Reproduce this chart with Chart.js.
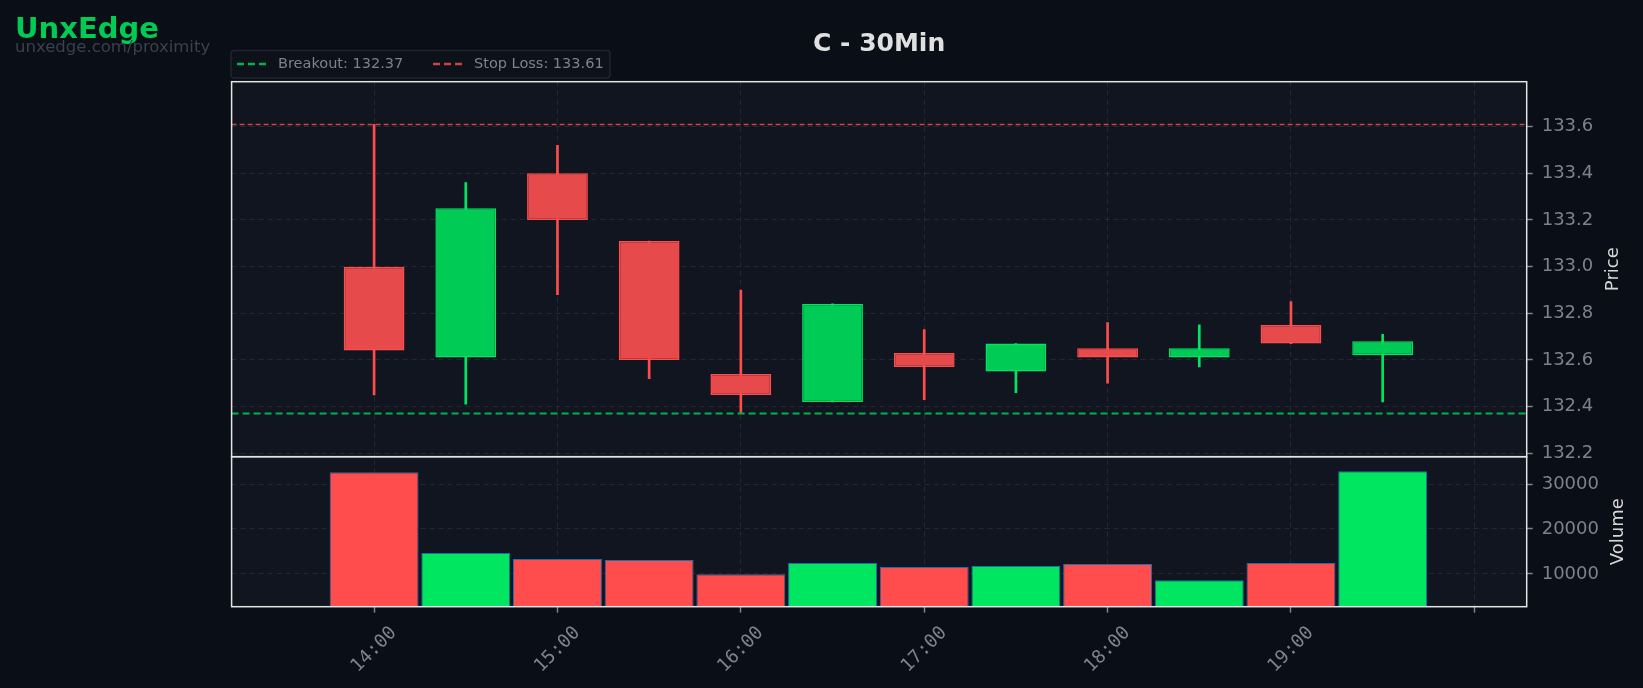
<!DOCTYPE html>
<html>
<head>
<meta charset="utf-8">
<script src="https://cdn.jsdelivr.net/npm/chart.js@4.4.1/dist/chart.umd.min.js"></script>
<style>
  html, body { margin: 0; padding: 0; background: #0a0e16; overflow: hidden; }
  canvas { display: block; }
</style>
</head>
<body>
<canvas id="chart" width="1643" height="688"></canvas>
<script>
// --- data (30 min candles, index 0 = 14:00) ---
const candleTimes = ['14:00', '14:30', '15:00', '15:30', '16:00', '16:30', '17:00', '17:30', '18:00', '18:30', '19:00', '19:30'];
const openPrices  = [133.00, 132.61, 133.40, 133.11, 132.54, 132.42, 132.63, 132.55, 132.65, 132.61, 132.75, 132.62];
const highPrices  = [133.61, 133.36, 133.52, 133.11, 132.90, 132.84, 132.73, 132.67, 132.76, 132.75, 132.85, 132.71];
const lowPrices   = [132.45, 132.41, 132.88, 132.52, 132.37, 132.42, 132.43, 132.46, 132.50, 132.57, 132.67, 132.42];
const closePrices = [132.64, 133.25, 133.20, 132.60, 132.45, 132.84, 132.57, 132.67, 132.61, 132.65, 132.67, 132.68];
const volumes     = [32600, 14630, 13290, 13060, 9930, 12390, 11500, 11720, 12170, 8590, 12390, 32830];

const breakoutLevel = 132.37;
const stopLossLevel = 133.61;

const timeTickValues = [0, 2, 4, 6, 8, 10, 12];
const timeTickLabels = ['14:00', '15:00', '16:00', '17:00', '18:00', '19:00', ''];
const priceTicks = [132.2, 132.4, 132.6, 132.8, 133.0, 133.2, 133.4, 133.6];
const volumeTicks = [10000, 20000, 30000];

// axis limits
const xMin = -1.554, xMax = 12.571;
const priceMin = 132.185, priceMax = 133.793;
const volumeMin = 2685, volumeMax = 36085;

// --- colours ---
const UP = '#00e660', DOWN = '#ff4d4d';
const UP_BODY = '#00cc55', DOWN_BODY = '#e64a4a';
const GRID = 'rgba(130,135,150,0.17)';
const TICK_TEXT = '#7d828d';
const FRAME = '#e4e4e4';
const PLOT_BG = '#111520';
const FONT = "'DejaVu Sans', sans-serif";

const isUp = i => closePrices[i] >= openPrices[i];

const wickData = candleTimes.map((t, i) => ({ x: i, y: [lowPrices[i], highPrices[i]] }));
const bodyData = candleTimes.map((t, i) => ({ x: i, y: [openPrices[i], closePrices[i]] }));
const volumeData = candleTimes.map((t, i) => ({ x: i, y: volumes[i] }));

const frameAndText = {
  id: 'frameAndText',
  beforeDraw(chart) {
    const { ctx, chartArea } = chart;
    ctx.save();
    ctx.fillStyle = '#0a0e16';
    ctx.fillRect(0, 0, chart.width, chart.height);
    ctx.fillStyle = PLOT_BG;
    ctx.fillRect(chartArea.left, chartArea.top, chartArea.right - chartArea.left, chartArea.bottom - chartArea.top);
    ctx.restore();
  },
  afterDraw(chart) {
    const { ctx, chartArea } = chart;
    const sx = chart.scales.x;
    ctx.save();

    // panel frames
    ctx.strokeStyle = FRAME;
    ctx.lineWidth = 1.5;
    ['y', 'yVol'].forEach(id => {
      const s = chart.scales[id];
      ctx.strokeRect(chartArea.left, s.top, chartArea.right - chartArea.left, s.bottom - s.top);
    });

    // rotated time labels, centred on the ticks
    ctx.fillStyle = TICK_TEXT;
    ctx.font = "18.5px 'DejaVu Sans Mono', monospace";
    ctx.textAlign = 'center';
    ctx.textBaseline = 'middle';
    timeTickValues.forEach((v, i) => {
      if (!timeTickLabels[i]) return;
      ctx.save();
      ctx.translate(sx.getPixelForValue(v), chartArea.bottom + 43);
      ctx.rotate(-Math.PI / 4);
      ctx.fillText(timeTickLabels[i], 0, 0);
      ctx.restore();
    });

    // axis titles (read bottom to top)
    ctx.fillStyle = '#d6d6d6';
    ctx.font = '18px ' + FONT;
    [['y', 'Price', 1613], ['yVol', 'Volume', 1618]].forEach(([id, txt, x]) => {
      const s = chart.scales[id];
      ctx.save();
      ctx.translate(x, (s.top + s.bottom) / 2);
      ctx.rotate(-Math.PI / 2);
      ctx.fillText(txt, 0, 0);
      ctx.restore();
    });

    // title
    ctx.fillStyle = '#e0e0e0';
    ctx.font = 'bold 25px ' + FONT;
    ctx.fillText('C - 30Min', (chartArea.left + chartArea.right) / 2, 44);

    // watermark
    ctx.textAlign = 'left';
    ctx.textBaseline = 'alphabetic';
    ctx.fillStyle = '#00cc55';
    ctx.font = 'bold 29px ' + FONT;
    ctx.fillText('UnxEdge', 15, 38);
    ctx.fillStyle = '#3b414d';
    ctx.font = '16.5px ' + FONT;
    ctx.fillText('unxedge.com/proximity', 15, 52);

    // legend
    ctx.fillStyle = '#0d111a';
    ctx.strokeStyle = '#1f2430';
    ctx.lineWidth = 1.5;
    ctx.beginPath();
    ctx.roundRect(231, 50.5, 379, 27.5, 3);
    ctx.fill();
    ctx.stroke();
    ctx.lineWidth = 2.5;
    ctx.setLineDash([7, 4]);
    ctx.strokeStyle = '#00b34a';
    ctx.beginPath(); ctx.moveTo(237, 64); ctx.lineTo(267, 64); ctx.stroke();
    ctx.strokeStyle = '#c94545';
    ctx.beginPath(); ctx.moveTo(433, 64); ctx.lineTo(463, 64); ctx.stroke();
    ctx.setLineDash([]);
    ctx.fillStyle = TICK_TEXT;
    ctx.font = '14.5px ' + FONT;
    ctx.textBaseline = 'middle';
    ctx.fillText('Breakout: ' + breakoutLevel.toFixed(2), 278, 64);
    ctx.fillText('Stop Loss: ' + stopLossLevel.toFixed(2), 474, 64);

    ctx.restore();
  }
};

new Chart(document.getElementById('chart'), {
  type: 'bar',
  data: {
    datasets: [
      {
        label: 'Breakout',
        type: 'line',
        yAxisID: 'y',
        data: [{ x: xMin, y: breakoutLevel }, { x: xMax, y: breakoutLevel }],
        borderColor: '#00b34a',
        borderWidth: 2,
        borderDash: [7, 4],
        pointRadius: 0,
        order: 0
      },
      {
        label: 'Stop Loss',
        type: 'line',
        yAxisID: 'y',
        data: [{ x: xMin, y: stopLossLevel }, { x: xMax, y: stopLossLevel }],
        borderColor: '#c94545',
        borderWidth: 1.5,
        borderDash: [5, 3],
        pointRadius: 0,
        order: 0
      },
      {
        label: 'Wick',
        yAxisID: 'y',
        data: wickData,
        backgroundColor: ctx => isUp(ctx.dataIndex) ? UP : DOWN,
        barThickness: 2,
        grouped: false,
        order: 3
      },
      {
        label: 'Body',
        yAxisID: 'y',
        data: bodyData,
        backgroundColor: ctx => isUp(ctx.dataIndex) ? UP_BODY : DOWN_BODY,
        borderColor: ctx => isUp(ctx.dataIndex) ? UP : DOWN,
        borderWidth: 1.5,
        borderSkipped: false,
        categoryPercentage: 1,
        barPercentage: 0.663,
        grouped: false,
        order: 2
      },
      {
        label: 'Volume',
        yAxisID: 'yVol',
        data: volumeData,
        backgroundColor: ctx => isUp(ctx.dataIndex) ? UP : DOWN,
        borderColor: '#1f6fae',
        borderWidth: 1,
        borderSkipped: false,
        categoryPercentage: 1,
        barPercentage: 0.97,
        grouped: false,
        order: 2
      }
    ]
  },
  options: {
    responsive: false,
    animation: false,
    devicePixelRatio: 1,
    layout: { padding: { left: 231.6, top: 81.7, right: 0, bottom: 0 } },
    plugins: { legend: { display: false }, tooltip: { enabled: false }, title: { display: false } },
    scales: {
      x: {
        type: 'linear',
        min: xMin,
        max: xMax,
        offset: false,
        afterBuildTicks: s => { s.ticks = timeTickValues.map(v => ({ value: v })); },
        afterFit: s => { s.height = 81.3; },
        ticks: { display: false },
        grid: { offset: false, color: GRID, lineWidth: 1, tickColor: TICK_TEXT, tickLength: 6, tickWidth: 1.5, tickBorderDash: [] },
        border: { display: false, dash: [5, 4] }
      },
      y: {
        type: 'linear',
        position: 'right',
        stack: 'panels',
        stackWeight: 2.5,
        min: priceMin,
        max: priceMax,
        afterBuildTicks: s => { s.ticks = priceTicks.map(v => ({ value: v })); },
        afterFit: s => { s.width = 116.3; },
        ticks: { color: TICK_TEXT, font: { family: FONT, size: 18 }, padding: 9, callback: v => v.toFixed(1) },
        grid: { color: GRID, lineWidth: 1, tickColor: TICK_TEXT, tickLength: 6, tickWidth: 1.5, tickBorderDash: [] },
        border: { display: false, dash: [5, 4] }
      },
      yVol: {
        type: 'linear',
        position: 'right',
        stack: 'panels',
        stackWeight: 1,
        min: volumeMin,
        max: volumeMax,
        afterBuildTicks: s => { s.ticks = volumeTicks.map(v => ({ value: v })); },
        afterFit: s => { s.width = 116.3; },
        ticks: { color: TICK_TEXT, font: { family: FONT, size: 18 }, padding: 9, callback: v => String(v) },
        grid: { color: GRID, lineWidth: 1, tickColor: TICK_TEXT, tickLength: 6, tickWidth: 1.5, tickBorderDash: [] },
        border: { display: false, dash: [5, 4] }
      }
    }
  },
  plugins: [frameAndText]
});
</script>
</body>
</html>
